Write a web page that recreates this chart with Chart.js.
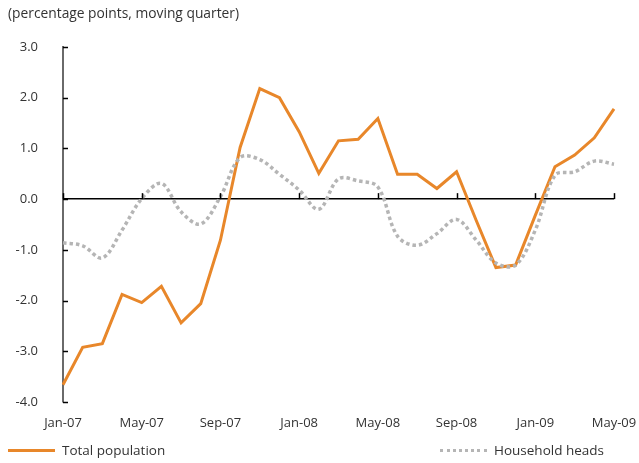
<!DOCTYPE html>
<html>
<head>
<meta charset="utf-8">
<script src="https://cdn.jsdelivr.net/npm/chart.js@4.4.1/dist/chart.umd.min.js"></script>
<style>
  html, body { margin: 0; padding: 0; background: #fff; }
  #wrap { position: relative; width: 639px; height: 463px; font-family: "Open Sans", sans-serif; color: #333; }
  #title { position: absolute; left: 8px; top: 3px; font-size: 13.8px; }
  .leg { position: absolute; top: 441px; font-size: 13.5px; display: flex; align-items: center; }
  .leg .sw { width: 47px; height: 0; margin-right: 7px; }
  #leg1 { left: 8px; }
  #leg1 .sw { border-top: 3px solid #E8872A; }
  #leg2 { left: 440px; }
  #leg2 .sw { border-top: 3px dotted #B5B5B5; }
</style>
</head>
<body>
<div id="wrap">
  <canvas id="myChart" width="639" height="463"></canvas>
  <div id="title">(percentage points, moving quarter)</div>
  <div class="leg" id="leg1"><span class="sw"></span>Total population</div>
  <div class="leg" id="leg2"><span class="sw"></span>Household heads</div>
</div>
<script>
const labels_month = ["Jan-07","Feb-07","Mar-07","Apr-07","May-07","Jun-07","Jul-07","Aug-07","Sep-07","Oct-07","Nov-07","Dec-07",
  "Jan-08","Feb-08","Mar-08","Apr-08","May-08","Jun-08","Jul-08","Aug-08","Sep-08","Oct-08","Nov-08","Dec-08",
  "Jan-09","Feb-09","Mar-09","Apr-09","May-09"];

const dataTotal = [-3.66, -2.92, -2.85, -1.88, -2.04, -1.72, -2.44, -2.06, -0.81, 1.02, 2.18, 2.0,
  1.33, 0.51, 1.15, 1.18, 1.59, 0.49, 0.49, 0.21, 0.54, -0.42, -1.35, -1.30,
  -0.32, 0.64, 0.87, 1.21, 1.78];

const dataHeads = [-0.86, -0.92, -1.16, -0.61, 0.01, 0.31, -0.25, -0.49, 0.05, 0.82, 0.78, 0.49,
  0.18, -0.2, 0.40, 0.36, 0.24, -0.73, -0.91, -0.68, -0.40, -0.81, -1.26, -1.30,
  -0.61, 0.47, 0.54, 0.75, 0.69];

const yTicks = [3, 2, 1, 0, -1, -2, -3, -4];

// small inward tick marks: on the y axis and along the zero line every 4 months
const tickMarks = {
  id: 'tickMarks',
  afterDatasetsDraw(chart) {
    const ctx = chart.ctx;
    const x = chart.scales.x, y = chart.scales.y;
    const left = chart.chartArea.left;
    const zero = y.getPixelForValue(0);
    ctx.save();
    ctx.strokeStyle = '#000';
    ctx.lineWidth = 1.5;
    yTicks.forEach(v => {
      const py = Math.round(y.getPixelForValue(v)) + 0.5;
      ctx.beginPath();
      ctx.moveTo(left, py);
      ctx.lineTo(left + 5, py);
      ctx.stroke();
    });
    labels_month.forEach((m, i) => {
      if (i % 4 !== 0) return;
      const px = Math.round(x.getPixelForValue(i)) + 0.5;
      ctx.beginPath();
      ctx.moveTo(px, zero);
      ctx.lineTo(px, zero - 6);
      ctx.stroke();
    });
    ctx.restore();
  }
};

const data = {
  labels: labels_month,
  datasets: [
    {
      label: 'Household heads',
      data: dataHeads,
      borderColor: '#B5B5B5',
      borderWidth: 3.5,
      borderDash: [3.5, 3],
      pointRadius: 0,
      fill: false,
      tension: 0.35
    }, {
      label: 'Total population',
      data: dataTotal,
      borderColor: '#E8872A',
      borderWidth: 3,
      pointRadius: 0,
      fill: false,
      tension: 0
    }
  ]
};

const config = {
  type: 'line',
  data: data,
  options: {
    responsive: false,
    animation: false,
    layout: {
      padding: { top: 47, right: 25, bottom: 32, left: 0 }
    },
    plugins: {
      legend: { display: false },
      tooltip: { enabled: false }
    },
    scales: {
      x: {
        offset: false,
        border: { display: false },
        grid: { display: false, drawTicks: false },
        ticks: {
          autoSkip: false,
          maxRotation: 0,
          padding: 13,
          color: '#333',
          font: { family: 'Open Sans', size: 13 },
          callback: function(val, i) { return i % 4 === 0 ? labels_month[i] : null; }
        },
        afterFit: function(scale) {
          scale.height = 29;
          scale.paddingLeft = 0;
          scale.paddingRight = 0;
        }
      },
      y: {
        min: -4,
        max: 3,
        border: { display: true, color: '#6a6a6a', width: 2 },
        grid: {
          drawTicks: false,
          color: ctx => ctx.tick && ctx.tick.value === 0 ? '#000' : 'rgba(0,0,0,0)',
          lineWidth: 1.5
        },
        ticks: {
          stepSize: 1,
          padding: 25,
          color: '#333',
          font: { family: 'Open Sans', size: 13 },
          callback: v => v.toFixed(1)
        },
        afterFit: function(scale) { scale.width = 63; }
      }
    }
  },
  plugins: [tickMarks]
};

const myChart = new Chart(document.getElementById('myChart'), config);
</script>
</body>
</html>
